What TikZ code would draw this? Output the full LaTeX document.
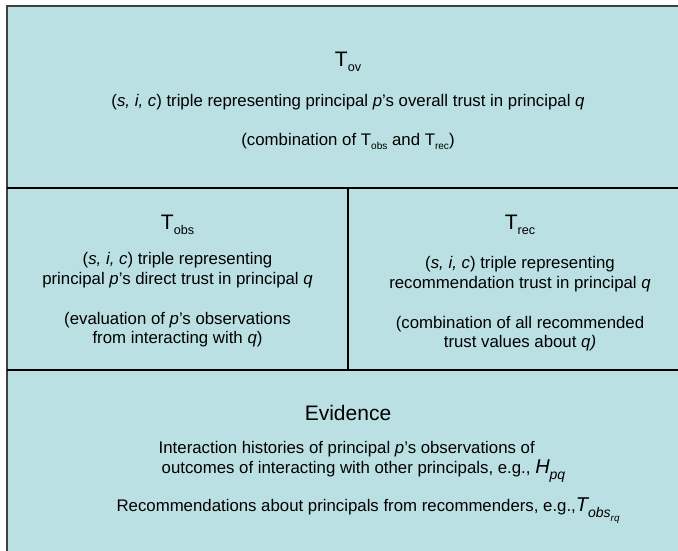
\documentclass[tikz,border=0pt]{standalone}
\usepackage{fontspec}
\usepackage{graphicx}
\setmainfont{Liberation Sans}
\usetikzlibrary{positioning}
\definecolor{panelfill}{RGB}{187,224,227}
\definecolor{frameline}{RGB}{64,64,64}
\newcommand{\lowsub}[1]{\raisebox{-0.45ex}{\scalebox{0.6}{#1}}}
\newcommand{\eqsub}[1]{\raisebox{-0.55ex}{\scalebox{0.7}{#1}}}
\newcommand{\eqsym}[2]{{\fontsize{20}{20}\selectfont\itshape #1\eqsub{#2}}}

\begin{document}
\begin{tikzpicture}[
        x=1pt, y=-1pt,
        headtext/.style = {font=\fontsize{21}{24}\selectfont, inner sep=0pt},
        bodytext/.style = {font=\fontsize{16.8}{19.6}\selectfont, align=center, inner sep=0pt},
        divider/.style = {draw=black, line width=1.3pt}
    ]

        % Page and panel
        \fill[white] (0,0) rectangle (678,550);
        \clip (0,0) rectangle (678,550);
        \fill[panelfill] (7,6) rectangle (690,560);
        \draw[frameline, line width=2pt] (7,560) -- (7,6) -- (690,6);

        % Dividers
        \draw [divider] (7,188) -- (690,188);
        \draw [divider] (348,188) -- (348,370);
        \draw [divider] (7,370) -- (690,370);

        % Overall trust
        \node (tov) [headtext] at (348,62) {T\lowsub{ov}};
        \node (tovbody) [bodytext] at (348,122) {(\textit{s, i, c}) triple representing principal \textit{p}'s overall trust in principal \textit{q}\\[20pt](combination of T\lowsub{obs} and T\lowsub{rec})};

        % Observed and recommended trust
        \node (tobs) [headtext] at (177.5,225) {T\lowsub{obs}};
        \node (tobsbody) [bodytext] at (177.5,300) {(\textit{s, i, c}) triple representing\\principal \textit{p}'s direct trust in principal \textit{q}\\[20pt](evaluation of \textit{p}'s observations\\from interacting with \textit{q})};

        \node (trec) [headtext] at (520,225) {T\lowsub{rec}};
        \node (trecbody) [bodytext] at (520,304) {(\textit{s, i, c}) triple representing\\recommendation trust in principal \textit{q}\\[20pt](combination of all recommended\\trust values about \textit{q)}};

        % Evidence
        \node (evidence) [headtext] at (348,413) {Evidence};
        \node (histories) [bodytext, align=left] at (362,462) {Interaction histories of principal \textit{p}'s observations of\\\hspace*{3pt}outcomes of interacting with other principals, e.g., \eqsym{H}{pq}};
        \node (recs) [bodytext] at (368,511) {Recommendations about principals from recommenders, e.g.,\eqsym{T}{obs\eqsub{rq}}};

    \end{tikzpicture}
\end{document}
